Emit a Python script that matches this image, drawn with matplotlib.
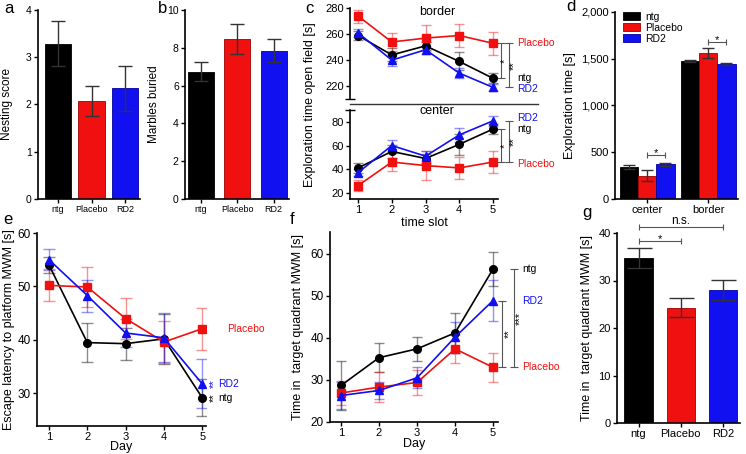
import numpy as np
import matplotlib
matplotlib.use("Agg")
import matplotlib.pyplot as plt
from matplotlib.colors import to_rgba
from matplotlib.patches import Patch
from matplotlib.ticker import FuncFormatter

plt.rcParams["font.family"] = ["Liberation Sans", "DejaVu Sans"]

W, H = 746, 454

GROUPS = ["ntg", "Placebo", "RD2"]
CLR_LST = ["black", "#f01010", "#1010f0"]
EDGE_LST = ["black", "#a00000", "#0000a0"]
MARKERS = ["o", "s", "^"]

# a: nesting score
NEST_MEAN = [3.29, 2.07, 2.34]
NEST_ERR = [0.47, 0.32, 0.48]

# b: marbles buried
MARB_MEAN = [6.74, 8.47, 7.85]
MARB_ERR = [0.49, 0.78, 0.60]

# c: open field, per time slot
SLOTS = [1, 2, 3, 4, 5]
BORDER_NTG = [259, 244, 251, 239, 226]
BORDER_NTG_ERR = [3.6, 5, 3, 7, 4]
BORDER_PLA = [274, 254, 257, 259, 253]
BORDER_PLA_ERR = [5, 7, 10, 8.5, 9]
BORDER_RD2 = [261, 240, 248, 230, 219]
BORDER_RD2_ERR = [3, 4.5, 3, 4, 2.5]
CENTER_NTG = [41, 55, 49, 61, 74]
CENTER_NTG_ERR = [4, 5.5, 4, 9, 4.5]
CENTER_PLA = [26, 46, 43, 41, 46]
CENTER_PLA_ERR = [5, 8, 12, 9, 9]
CENTER_RD2 = [37, 60, 51, 69, 81]
CENTER_RD2_ERR = [3, 5, 4, 6, 4]

# d: total exploration time
ZONES = ["center", "border"]
EXPL_NTG = [345, 1470]
EXPL_NTG_ERR = [20, 12]
EXPL_PLA = [250, 1560]
EXPL_PLA_ERR = [55, 50]
EXPL_RD2 = [372, 1440]
EXPL_RD2_ERR = [15, 12]

# e: escape latency MWM
DAYS = [1, 2, 3, 4, 5]
LAT_NTG = [54.0, 39.5, 39.3, 40.2, 29.2]
LAT_NTG_ERR = [1.5, 3.7, 3.0, 4.7, 3.5]
LAT_PLA = [50.2, 49.9, 44.0, 39.6, 42.1]
LAT_PLA_ERR = [3.0, 3.7, 3.8, 4.0, 3.9]
LAT_RD2 = [55.0, 48.3, 41.3, 40.4, 31.8]
LAT_RD2_ERR = [2.0, 3.0, 2.7, 4.6, 4.6]

# f: time in target quadrant per day
TQ_NTG = [28.7, 35.3, 37.4, 41.2, 56.4]
TQ_NTG_ERR = [5.8, 3.5, 2.9, 4.8, 4.1]
TQ_PLA = [26.9, 28.3, 29.4, 37.4, 33.0]
TQ_PLA_ERR = [2.8, 3.5, 2.9, 3.3, 3.4]
TQ_RD2 = [26.3, 27.5, 30.5, 40.2, 48.9]
TQ_RD2_ERR = [3.2, 2.0, 2.5, 3.7, 4.8]

# g: probe trial
PROBE_MEAN = [34.7, 24.3, 28.0]
PROBE_ERR = [2.1, 2.0, 2.1]


# Put an axes on the figure using pixel coords (left, top, right, bottom)
def add_ax(fig, l, t, r, b):
    return fig.add_axes([l / W, 1 - b / H, (r - l) / W, (b - t) / H])


def fig_text(fig, x, y, s, **kw):
    fig.text(x / W, 1 - y / H, s, **kw)


def style_ax(ax, fs=8):
    for side in ["top", "right"]:
        ax.spines[side].set_visible(False)
    for side in ["left", "bottom"]:
        ax.spines[side].set_linewidth(1.2)
    ax.tick_params(direction="out", length=3, width=1.0, labelsize=fs, pad=1.5)


def bar_panel(ax, means, errs, capsize, width):
    x = np.arange(len(means))
    ax.bar(x, means, width=width, color=CLR_LST, edgecolor=EDGE_LST, linewidth=0.6)
    ax.errorbar(x, means, yerr=errs, fmt="none", ecolor="#333333", elinewidth=1.0,
                capsize=capsize, capthick=1.0)
    ax.set_xticks(x)
    ax.set_xticklabels(GROUPS)
    return x


def line_panel(ax, x, series, capsize):
    for (m, e), c, mk in zip(series, CLR_LST, MARKERS):
        ax.errorbar(x, m, yerr=e, fmt="-" + mk, color=c, ms=5.5, lw=1.2,
                    ecolor=to_rgba(c, 0.45), elinewidth=1.0, capsize=capsize, capthick=1.0)


def vbracket(ax, x, y1, y2, star, sx, fs=8):
    ax.plot([x, x], [y1, y2], color="#555555", lw=0.8, marker="_", ms=6, mew=0.8, clip_on=False)
    ax.text(sx, (y1 + y2) / 2, star, rotation=90, ha="center", va="center", fontsize=fs, clip_on=False)


def hbracket(ax, x1, x2, y, text, fs=8, dy=1):
    ax.plot([x1, x2], [y, y], color="#555555", lw=0.8, marker="|", ms=5, mew=0.8, clip_on=False)
    ax.annotate(text, xy=((x1 + x2) / 2, y), xytext=(0, dy), textcoords="offset points",
                ha="center", va="bottom" if text == "n.s." else "center", fontsize=fs,
                annotation_clip=False)


def end_labels(ax, x, ys, fs=7.5):
    for name, y, c in ys:
        ax.text(x, y, name, color=c, ha="left", va="center", fontsize=fs, clip_on=False)


fig = plt.figure(figsize=(W / 100, H / 100), dpi=100)

# ---------------- a ----------------
ax = add_ax(fig, 38, 10, 140, 199)
style_ax(ax, fs=7.5)
bar_panel(ax, NEST_MEAN, NEST_ERR, 5, 0.78)
ax.set_xlim(-0.6, 2.45)
ax.set_ylim(0, 4)
ax.set_yticks([0, 1, 2, 3, 4])
ax.tick_params(axis="x", labelsize=6.5)
ax.set_ylabel("Nesting score", fontsize=8.5, labelpad=9)

# ---------------- b ----------------
ax = add_ax(fig, 185, 10, 289, 199)
style_ax(ax, fs=7.5)
bar_panel(ax, MARB_MEAN, MARB_ERR, 5, 0.72)
ax.set_xlim(-0.44, 2.42)
ax.set_ylim(0, 10)
ax.set_yticks([0, 2, 4, 6, 8, 10])
ax.tick_params(axis="x", labelsize=6.5)
ax.set_ylabel("Marbles buried", fontsize=8.5, labelpad=5)

# ---------------- c ----------------
axt = add_ax(fig, 350, 8.3, 498, 99)
axb = add_ax(fig, 350, 110, 498, 199)
for a_ in (axt, axb):
    style_ax(a_, fs=8)
    a_.set_xlim(0.76, 5.15)
axt.spines["bottom"].set_visible(False)
axt.set_xticks([])
axt.set_ylim(210, 280)
axt.set_yticks([220, 240, 260, 280])
axt.set_yticks([210], minor=True)
axb.set_ylim(14.6, 90.2)
axb.set_yticks([20, 40, 60, 80])
axb.set_yticks([90.2], minor=True)
for a_ in (axt, axb):
    a_.tick_params(axis="y", which="minor", direction="inout", length=7, width=1.0)
line_panel(axt, SLOTS, [(BORDER_NTG, BORDER_NTG_ERR), (BORDER_PLA, BORDER_PLA_ERR),
                        (BORDER_RD2, BORDER_RD2_ERR)], 3.5)
line_panel(axb, SLOTS, [(CENTER_NTG, CENTER_NTG_ERR), (CENTER_PLA, CENTER_PLA_ERR),
                        (CENTER_RD2, CENTER_RD2_ERR)], 3.5)
axb.set_xticks(SLOTS)
axb.set_xlabel("time slot", fontsize=9, labelpad=1)
axt.text(0.59, 0.96, "border", transform=axt.transAxes, ha="center", va="center", fontsize=9)
axb.text(0.59, 0.99, "center", transform=axb.transAxes, ha="center", va="center", fontsize=9)
fig_text(fig, 310, 105, "Exploration time open field [s]", rotation=90, ha="center",
         va="center", fontsize=9)
fig.add_artist(plt.Line2D([350 / W, 538 / W], [1 - 104 / H, 1 - 104 / H], color="#333333", lw=1.0))

vbracket(axt, 5.23, BORDER_PLA[-1], BORDER_NTG[-1], "*", 5.36)
vbracket(axt, 5.47, BORDER_PLA[-1], BORDER_RD2[-1], "**", 5.62)
end_labels(axt, 5.71, [("ntg", BORDER_NTG[-1] + 0.5, CLR_LST[0]),
                       ("Placebo", BORDER_PLA[-1], CLR_LST[1]),
                       ("RD2", BORDER_RD2[-1] - 1.5, CLR_LST[2])])
vbracket(axb, 5.23, CENTER_NTG[-1], CENTER_PLA[-1], "*", 5.36)
vbracket(axb, 5.47, CENTER_RD2[-1], CENTER_PLA[-1], "**", 5.62)
end_labels(axb, 5.71, [("ntg", CENTER_NTG[-1], CLR_LST[0]),
                       ("Placebo", CENTER_PLA[-1] - 1.5, CLR_LST[1]),
                       ("RD2", CENTER_RD2[-1] + 2, CLR_LST[2])])

# ---------------- d ----------------
ax = add_ax(fig, 615, 11.7, 738, 199)
style_ax(ax)
xz = np.arange(len(ZONES))
w = 0.3
for k, (m, e) in enumerate([(EXPL_NTG, EXPL_NTG_ERR), (EXPL_PLA, EXPL_PLA_ERR),
                            (EXPL_RD2, EXPL_RD2_ERR)]):
    xs = xz + (k - 1) * w
    ax.bar(xs, m, width=w, color=CLR_LST[k], edgecolor=EDGE_LST[k], linewidth=0.6, label=GROUPS[k])
    ax.errorbar(xs, m, yerr=e, fmt="none", ecolor="#333333", elinewidth=1.0, capsize=4.5, capthick=1.0)
ax.set_xticks(xz)
ax.set_xticklabels(ZONES)
ax.set_xlim(-0.525, 1.49)
ax.set_ylim(0, 2000)
ax.set_yticks([0, 500, 1000, 1500, 2000])
ax.yaxis.set_major_formatter(FuncFormatter(lambda v, p: f"{int(v):,}"))
ax.set_ylabel("Exploration time [s]", fontsize=9, labelpad=4)
ax.legend(handles=[Patch(facecolor=c, edgecolor=ec, lw=0.6) for c, ec in zip(CLR_LST, EDGE_LST)],
          labels=GROUPS, loc="upper left", bbox_to_anchor=(0.065, 1.0), frameon=False,
          fontsize=7.5, handlelength=1.6, handleheight=0.8, labelspacing=0.1,
          handletextpad=0.5, borderpad=0, borderaxespad=0)
hbracket(ax, xz[0], xz[0] + w, EXPL_RD2[0] + EXPL_RD2_ERR[0] + 85, "*")
hbracket(ax, xz[1], xz[1] + w, EXPL_PLA[1] + EXPL_PLA_ERR[1] + 70, "*")

# ---------------- e ----------------
ax = add_ax(fig, 37, 233, 206, 426)
style_ax(ax, fs=8.5)
line_panel(ax, DAYS, [(LAT_NTG, LAT_NTG_ERR), (LAT_PLA, LAT_PLA_ERR), (LAT_RD2, LAT_RD2_ERR)], 4.5)
ax.set_xlim(0.686, 5.1)
ax.set_ylim(23.9, 60)
ax.set_yticks([30, 40, 50, 60])
ax.set_xticks(DAYS)
ax.tick_params(axis="x", pad=1, labelsize=8)
ax.set_xlabel("Day", fontsize=9, labelpad=-0.5)
ax.set_ylabel("Escape latency to platform MWM [s]", fontsize=9, labelpad=2)
ax.text(5.3, LAT_RD2[-1], "**", rotation=90, color=CLR_LST[2], ha="center", va="center",
        fontsize=8, clip_on=False)
ax.text(5.3, LAT_NTG[-1], "**", rotation=90, color=CLR_LST[0], ha="center", va="center",
        fontsize=8, clip_on=False)
end_labels(ax, 5.42, [("ntg", LAT_NTG[-1], CLR_LST[0]), ("RD2", LAT_RD2[-1], CLR_LST[2])])
end_labels(ax, 5.65, [("Placebo", LAT_PLA[-1], CLR_LST[1])])

# ---------------- f ----------------
ax = add_ax(fig, 330, 232, 498, 422)
style_ax(ax, fs=8.5)
line_panel(ax, DAYS, [(TQ_NTG, TQ_NTG_ERR), (TQ_PLA, TQ_PLA_ERR), (TQ_RD2, TQ_RD2_ERR)], 3.5)
ax.set_xlim(0.71, 5.13)
ax.set_ylim(20, 65.2)
ax.set_yticks([20, 30, 40, 50, 60])
ax.set_xticks(DAYS)
ax.tick_params(axis="x", pad=1, labelsize=8)
ax.set_xlabel("Day", fontsize=9, labelpad=0)
ax.set_ylabel("Time in  target quadrant MWM [s]", fontsize=9, labelpad=5)
vbracket(ax, 5.24, TQ_RD2[-1], TQ_PLA[-1], "**", 5.42)
vbracket(ax, 5.54, TQ_NTG[-1], TQ_PLA[-1], "***", 5.70)
end_labels(ax, 5.76, [("ntg", TQ_NTG[-1], CLR_LST[0]), ("Placebo", TQ_PLA[-1], CLR_LST[1]),
                      ("RD2", TQ_RD2[-1], CLR_LST[2])])

# ---------------- g ----------------
ax = add_ax(fig, 617, 233, 740, 423)
style_ax(ax)
xg = bar_panel(ax, PROBE_MEAN, PROBE_ERR, 9, 0.67)
ax.set_xlim(-0.51, 2.4)
ax.set_ylim(0, 40)
ax.set_yticks([0, 10, 20, 30, 40])
ax.set_ylabel("Time in  target quadrant MWM [s]", fontsize=9, labelpad=4)
hbracket(ax, xg[0], xg[1], 38.4, "*")
hbracket(ax, xg[0], xg[2], 41.2, "n.s.", fs=8.5, dy=0)

# panel letters
for s, x, y in [("a", 4, 13), ("b", 158, 13), ("c", 305, 13), ("d", 566, 11),
                ("e", 3, 224), ("f", 290, 224), ("g", 582, 217)]:
    fig_text(fig, x, y, s, fontsize=12, va="baseline", ha="left")

fig.savefig("out.png", dpi=100)
